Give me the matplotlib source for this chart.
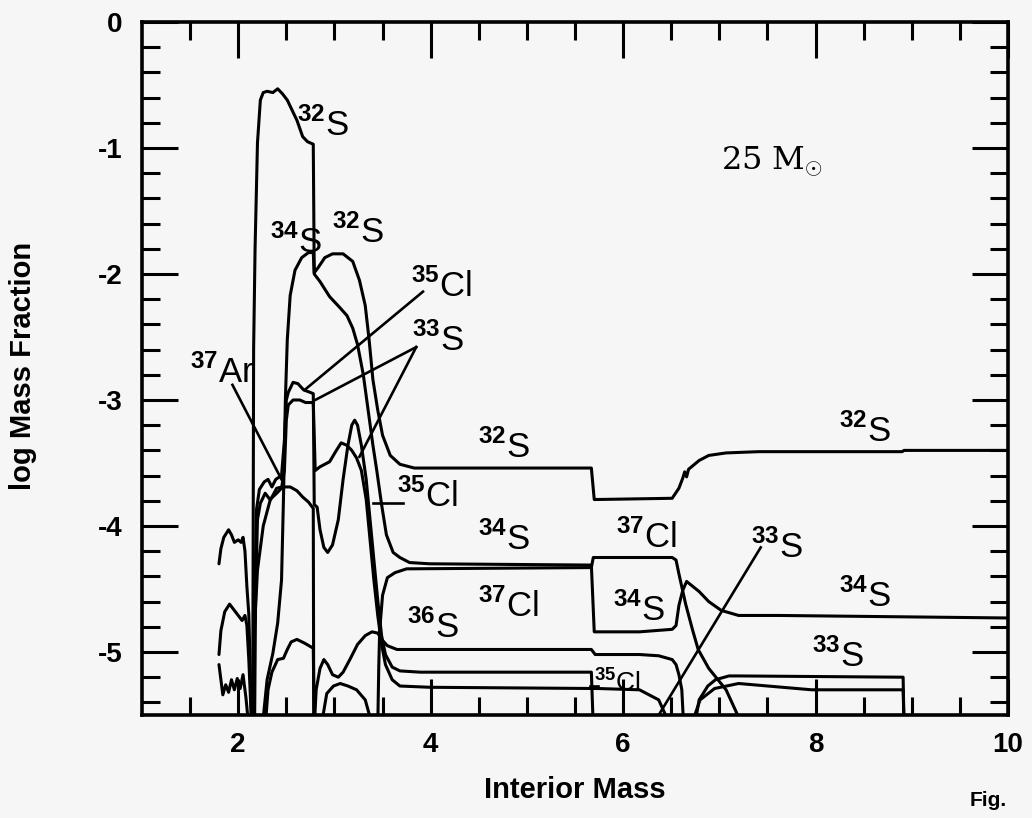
import matplotlib
matplotlib.use('Agg')
import matplotlib.pyplot as plt

plt.rcParams['font.family'] = ['Liberation Sans', 'DejaVu Sans']
plt.rcParams['mathtext.fontset'] = 'custom'
plt.rcParams['mathtext.rm'] = 'Liberation Sans'
plt.rcParams['mathtext.bf'] = 'Liberation Sans:bold'

# interior mass (x) and log mass fraction (y); -5.6 = runs off the bottom
s32_x = [2.15, 2.155, 2.16, 2.175, 2.19, 2.20, 2.23, 2.26, 2.30, 2.36, 2.41, 2.46, 2.51, 2.61, 2.67, 2.72, 2.78,
         2.79, 2.83, 2.90, 2.98, 3.09, 3.19, 3.26, 3.32, 3.36, 3.40, 3.45, 3.50, 3.58, 3.68, 3.83, 5.67,
         5.70, 6.51, 6.58, 6.62, 6.64, 6.66, 6.68, 6.79, 6.89, 7.07, 7.41, 8.90, 8.92, 10.0]
s32_y = [-5.6, -4.2, -2.6, -1.8, -1.3, -0.96, -0.62, -0.56, -0.55, -0.56, -0.53, -0.57, -0.62, -0.78, -0.91, -0.95, -0.97,
         -1.99, -1.95, -1.87, -1.84, -1.84, -1.90, -2.05, -2.25, -2.52, -2.84, -3.08, -3.28, -3.44, -3.51, -3.54, -3.54,
         -3.79, -3.78, -3.70, -3.62, -3.57, -3.61, -3.55, -3.48, -3.44, -3.42, -3.41, -3.41, -3.40, -3.40]

s34_x = [2.25, 2.30, 2.36, 2.41, 2.45, 2.47, 2.49, 2.51, 2.54, 2.59, 2.66, 2.73, 2.78, 2.79, 2.85, 2.95, 3.06, 3.13,
         3.19, 3.24, 3.30, 3.35, 3.40, 3.44, 3.49, 3.54, 3.61, 3.68, 3.78, 3.99, 5.67, 5.70, 6.17, 6.51, 6.55,
         6.58, 6.62, 6.66, 6.79, 6.89, 7.02, 7.20, 7.62, 10.0]
s34_y = [-5.6, -5.22, -5.01, -4.77, -4.43, -3.79, -3.0, -2.52, -2.17, -1.97, -1.87, -1.83, -1.83, -2.0, -2.06, -2.18,
         -2.27, -2.33, -2.43, -2.56, -2.80, -3.08, -3.36, -3.56, -3.83, -4.07, -4.21, -4.25, -4.29, -4.30, -4.31,
         -4.84, -4.84, -4.82, -4.79, -4.63, -4.51, -4.44, -4.52, -4.60, -4.67, -4.71, -4.71, -4.73]

cl35_x = [2.16, 2.17, 2.19, 2.22, 2.27, 2.31, 2.35, 2.39, 2.45, 2.48, 2.50, 2.52, 2.57, 2.62, 2.68, 2.75, 2.78,
          2.79, 2.82, 2.85, 2.89, 2.93, 2.98, 3.04, 3.09, 3.14, 3.18, 3.21, 3.24, 3.28, 3.33, 3.37, 3.41, 3.45,
          3.49, 3.53, 3.60, 3.68, 3.89, 5.67, 5.69]
cl35_y = [-5.6, -4.6, -3.87, -3.71, -3.65, -3.63, -3.69, -3.63, -3.60, -3.32, -3.0, -2.94, -2.86, -2.87, -2.92,
          -2.94, -2.95, -3.83, -3.85, -4.03, -4.17, -4.21, -4.15, -3.95, -3.63, -3.36, -3.20, -3.16, -3.20, -3.36,
          -3.63, -3.95, -4.27, -4.59, -4.87, -5.02, -5.12, -5.15, -5.16, -5.16, -5.6]

s33_x = [2.17, 2.18, 2.20, 2.23, 2.28, 2.33, 2.40, 2.45, 2.48, 2.50, 2.52, 2.57, 2.64, 2.70, 2.78, 2.80, 2.85,
         2.95, 3.02, 3.07, 3.13, 3.18, 3.23, 3.28, 3.33, 3.37, 3.41, 3.45, 3.49, 3.53, 3.60, 3.68, 3.99, 5.75,
         6.17, 6.37, 6.50]
s33_y = [-5.6, -4.6, -3.95, -3.82, -3.74, -3.79, -3.74, -3.70, -3.56, -3.16, -3.04, -3.0, -3.0, -3.02, -3.02,
         -3.56, -3.53, -3.49, -3.40, -3.34, -3.36, -3.40, -3.46, -3.56, -3.79, -4.11, -4.43, -4.71, -4.94, -5.10,
         -5.22, -5.27, -5.28, -5.29, -5.30, -5.38, -5.6]

s33_out_x = [6.74, 6.79, 6.88, 6.96, 7.10, 7.20, 8.91, 8.92]
s33_out_y = [-5.6, -5.38, -5.27, -5.22, -5.19, -5.19, -5.20, -5.6]

cl35_out_x = [6.70, 6.80, 6.95, 7.20, 7.96, 8.91, 8.92]
cl35_out_y = [-5.6, -5.38, -5.29, -5.25, -5.30, -5.30, -5.6]

cl37_x = [3.45, 3.46, 3.47, 3.50, 3.55, 3.63, 3.75, 5.67, 5.69, 6.51, 6.55, 6.58, 6.65, 6.72, 6.78, 6.89,
          7.07, 7.25]
cl37_y = [-5.6, -5.14, -4.83, -4.55, -4.41, -4.37, -4.34, -4.33, -4.25, -4.25, -4.27, -4.38, -4.62, -4.82,
          -4.98, -5.13, -5.30, -5.6]

s36_x = [2.28, 2.31, 2.35, 2.41, 2.47, 2.51, 2.55, 2.61, 2.69, 2.78, 2.79, 2.81, 2.85, 2.89, 2.93, 2.98, 3.04,
         3.09, 3.16, 3.24, 3.32, 3.39, 3.45, 3.49, 3.55, 3.65, 3.89, 5.67, 5.71, 6.17, 6.37, 6.51, 6.55, 6.58,
         6.61, 6.63]
s36_y = [-5.6, -5.30, -5.16, -5.06, -5.05, -4.98, -4.92, -4.90, -4.93, -4.97, -5.6, -5.30, -5.13, -5.06, -5.10,
         -5.18, -5.20, -5.16, -5.06, -4.94, -4.87, -4.84, -4.85, -4.90, -4.95, -4.98, -4.98, -4.98, -5.02, -5.02,
         -5.03, -5.06, -5.10, -5.18, -5.30, -5.6]

ar37_x = [2.15, 2.17, 2.20, 2.26, 2.33, 2.40, 2.46, 2.54, 2.61, 2.67, 2.73, 2.78, 2.785]
ar37_y = [-5.6, -4.8, -4.35, -4.0, -3.80, -3.70, -3.69, -3.69, -3.72, -3.77, -3.81, -3.86, -5.6]

# ragged inner-zone curves left of 2.2
inner_a_x = [1.80, 1.82, 1.85, 1.90, 1.93, 1.96, 2.00, 2.03, 2.05, 2.07, 2.09, 2.11, 2.14]
inner_a_y = [-4.30, -4.18, -4.09, -4.03, -4.07, -4.13, -4.11, -4.13, -4.09, -4.20, -4.48, -4.70, -5.6]
inner_b_x = [1.80, 1.82, 1.86, 1.91, 1.96, 2.01, 2.04, 2.07, 2.09, 2.11, 2.14]
inner_b_y = [-5.02, -4.83, -4.68, -4.62, -4.67, -4.72, -4.75, -4.71, -4.79, -5.06, -5.6]
inner_c_x = [1.80, 1.82, 1.84, 1.87, 1.90, 1.93, 1.96, 1.99, 2.02, 2.05, 2.08, 2.11]
inner_c_y = [-5.10, -5.22, -5.34, -5.26, -5.32, -5.22, -5.30, -5.21, -5.29, -5.18, -5.36, -5.6]
arc_x = [2.86, 2.92, 2.99, 3.06, 3.14, 3.23, 3.32, 3.40]
arc_y = [-5.6, -5.33, -5.27, -5.25, -5.27, -5.30, -5.38, -5.6]

# isotope labels: mass number, element, left x, baseline y
lab_mass = ['32', '32', '34', '35', '33', '37', '35', '36', '32', '34', '37', '37', '34', '33', '32', '34', '33']
lab_elem = ['S', 'S', 'S', 'Cl', 'S', 'Ar', 'Cl', 'S', 'S', 'S', 'Cl', 'Cl', 'S', 'S', 'S', 'S', 'S']
lab_x = [2.61, 2.97, 2.33, 3.80, 3.81, 1.50, 3.65, 3.75, 4.49, 4.49, 4.49, 5.93, 5.89, 7.33, 8.24, 8.24, 7.96]
lab_y = [-0.90, -1.75, -1.83, -2.18, -2.61, -2.86, -3.85, -4.89, -3.46, -4.19, -4.72, -4.17, -4.75, -4.25,
         -3.33, -4.64, -5.12]

# leader lines: x0, y0, x1, y1
lead_x0 = [1.94, 3.92, 3.85, 3.85, 3.40, 7.43, 5.66]
lead_y0 = [-2.88, -2.14, -2.58, -2.58, -3.82, -4.17, -5.27]
lead_x1 = [2.47, 2.69, 2.80, 3.26, 3.71, 6.37, 5.74]
lead_y1 = [-3.66, -2.92, -3.00, -3.45, -3.82, -5.50, -5.27]

x_major = [2, 4, 6, 8, 10]
x_minor = [1.5, 2.5, 3, 3.5, 4.5, 5, 5.5, 6.5, 7, 7.5, 8.5, 9, 9.5]
y_major = [0, -1, -2, -3, -4, -5]
y_ticklabels = ['0', '-1', '-2', '-3', '-4', '-5']
y_minor = [-0.2, -0.4, -0.6, -0.8, -1.2, -1.4, -1.6, -1.8, -2.2, -2.4, -2.6, -2.8, -3.2, -3.4, -3.6, -3.8,
           -4.2, -4.4, -4.6, -4.8, -5.2, -5.4]

bg = '#f6f6f6'
fig = plt.figure(figsize=(10.32, 8.18), dpi=100, facecolor=bg)
ax = fig.add_axes([142/1032, 1-715/818, 866/1032, 693/818], facecolor=bg)

curves = [(s32_x, s32_y), (s34_x, s34_y), (cl35_x, cl35_y), (s33_x, s33_y), (s33_out_x, s33_out_y),
          (cl35_out_x, cl35_out_y), (cl37_x, cl37_y), (s36_x, s36_y), (ar37_x, ar37_y),
          (inner_a_x, inner_a_y), (inner_b_x, inner_b_y), (inner_c_x, inner_c_y), (arc_x, arc_y)]
for cx, cy in curves:
    ax.plot(cx, cy, color='black', lw=2.2, solid_joinstyle='round', solid_capstyle='round')

for x0, y0, x1, y1 in zip(lead_x0, lead_y0, lead_x1, lead_y1):
    ax.plot([x0, x1], [y0, y1], color='black', lw=1.9)

for m, e, lx, ly in zip(lab_mass, lab_elem, lab_x, lab_y):
    ax.text(lx, ly, r'$^{\mathbf{%s}}$%s' % (m, e), fontsize=25, ha='left', va='baseline')
ax.text(5.70, -5.31, r'$^{\mathbf{35}}$Cl', fontsize=19, ha='left', va='baseline')

ax.text(7.55, -1.10, r'25 M$_{\odot}$', fontsize=23, family='DejaVu Serif', ha='center', va='center')

ax.set_xlim(1, 10)
ax.set_ylim(-5.5, 0)
ax.set_xticks(x_major)
ax.set_xticklabels([str(v) for v in x_major])
ax.set_xticks(x_minor, minor=True)
ax.set_yticks(y_major)
ax.set_yticklabels(y_ticklabels)
ax.set_yticks(y_minor, minor=True)
ax.tick_params(which='both', direction='in', top=True, right=True, width=2.2, labelsize=20)
ax.tick_params(which='major', length=26)
ax.tick_params(which='minor', length=13)
ax.tick_params(axis='x', pad=12)
ax.tick_params(axis='y', pad=14)
for t in ax.get_xticklabels() + ax.get_yticklabels():
    t.set_fontweight('bold')
for sp in ax.spines.values():
    sp.set_linewidth(2.6)

fig.text(575/1032, 1-790/818, 'Interior Mass', fontsize=21, fontweight='bold', ha='center', va='center')
fig.text(23/1032, 1-366/818, 'log Mass Fraction', fontsize=21, fontweight='bold', rotation=90,
         ha='center', va='center')
fig.text(988/1032, 1-800/818, 'Fig.', fontsize=15, fontweight='bold', ha='center', va='center')

fig.savefig('out.png', dpi=100, facecolor=bg)
